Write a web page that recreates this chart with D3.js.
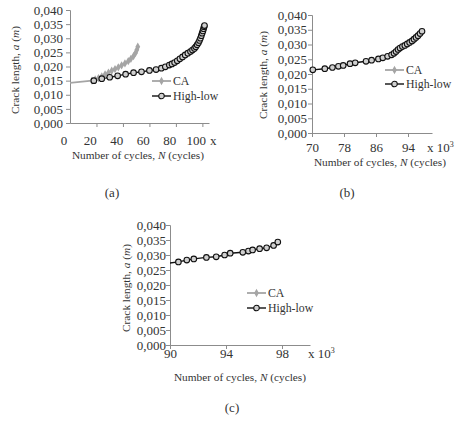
<!DOCTYPE html>
<html>
<head>
<meta charset="utf-8">
<script src="https://cdn.jsdelivr.net/npm/d3@7"></script>
</head>
<body style="margin:0;background:#fff">
<svg width="469" height="423"></svg>
<script>
// N in thousands of cycles, a in metres
var caA = [[0, 0.0140], [21.6, 0.0150], [24, 0.0154], [26.5, 0.0159], [29, 0.0165],
  [31.5, 0.0172], [34, 0.0178], [36.5, 0.0185], [39, 0.0191], [41.5, 0.0197],
  [44, 0.0204], [46.5, 0.0211], [49, 0.0219], [51, 0.0227], [53, 0.0237],
  [54.5, 0.0248], [55.5, 0.0259], [56.2, 0.0270]];

var highLowA = [[23, 0.0150], [29, 0.0157], [35, 0.0162], [41, 0.0167], [47, 0.0173],
  [53, 0.0178], [59, 0.0181], [65, 0.0186], [70, 0.0189], [74, 0.0194], [77, 0.0199],
  [80, 0.0205], [82, 0.0209], [84, 0.0214], [86, 0.0220], [88, 0.0227], [90, 0.0234],
  [92, 0.0241], [94, 0.0247], [96, 0.0253], [97.5, 0.0258], [99, 0.0264], [100, 0.0270],
  [101, 0.0277], [102, 0.0284], [102.8, 0.0292], [103.5, 0.0300], [104.2, 0.0309],
  [104.8, 0.0318], [105.4, 0.0326], [105.9, 0.0334], [106.3, 0.0341], [106.6, 0.0345]];

var highLowB = [[70.2, 0.0214], [73.2, 0.0218], [75.1, 0.0222], [76.6, 0.0226],
  [77.8, 0.0229], [79.5, 0.0235], [80.8, 0.0238], [83.5, 0.0243], [84.9, 0.0247],
  [86.6, 0.0251], [87.7, 0.0255], [88.9, 0.0260], [89.9, 0.0265], [90.5, 0.0270],
  [91, 0.0276], [91.5, 0.0283], [92, 0.0288], [92.6, 0.0293], [93.2, 0.0297],
  [93.8, 0.0302], [94.4, 0.0307], [95, 0.0312], [95.5, 0.0318], [96, 0.0324],
  [96.5, 0.0330], [97, 0.0337], [97.5, 0.0345]];

var highLowC = [[89.5, 0.0270], [90.6, 0.0277], [91.2, 0.0283], [91.7, 0.0287],
  [92.6, 0.0292], [93.3, 0.0294], [93.9, 0.0300], [94.3, 0.0306], [95.2, 0.0309],
  [95.6, 0.0313], [95.9, 0.0317], [96.4, 0.0321], [96.9, 0.0324], [97.4, 0.0332],
  [97.7, 0.0343]];

var crackTicks = [0, 0.005, 0.010, 0.015, 0.020, 0.025, 0.030, 0.035, 0.040];
var cycleLabelsA = [0, 20, 40, 60, 80, 100];
var cycleTicksA = [25, 45, 65, 85, 105];
var cycleTicksB = [70, 78, 86, 94];
var cycleTicksC = [90, 94, 98];
var seriesNames = ['CA', 'High-low'];

// no generic fallback here: "serif" resolves to a much wider face in the sandbox
var serif = '"Liberation Serif", "Times New Roman"';
var textColor = '#333';
var caColor = '#a5a5a5';
var axisColor = '#8c8c8c';
var commaFormat = d3.formatLocale({ decimal: ',', thousands: '.', grouping: [3], currency: ['', ''] }).format('.3f');

var panels = [
  { id: 'a', ca: caA, highLow: highLowA, xDomain: [5, 110], xRange: [70, 209], yRange: [123, 10],
    ticks: cycleTicksA, labels: cycleLabelsA, labelPad: 13, yPad: 3, unit: 'x', unitX: 210,
    legend: [152, 81, 15], caption: [112, 197], xTitle: [138, 159], yTitle: [15, 70] },
  { id: 'b', ca: caA, highLow: highLowB, xDomain: [70, 100], xRange: [312, 432], yRange: [133, 15],
    ticks: cycleTicksB, labels: cycleTicksB, labelPad: 10, yPad: 1, unit: 'x 10', unitX: 427,
    legend: [385, 70, 14], caption: [347, 197], xTitle: [380, 166], yTitle: [263, 75] },
  { id: 'c', ca: caA, highLow: highLowC, xDomain: [90, 100], xRange: [170, 310], yRange: [345, 225],
    ticks: cycleTicksC, labels: cycleTicksC, labelPad: 4, yPad: 0, unit: 'x 10', unitX: 308,
    legend: [247, 293, 15], caption: [232, 412], xTitle: [240, 381], yTitle: [126, 288] }
];

var svg = d3.select('svg').style('font-family', serif);
var defs = svg.append('defs');

function addText(g, x, y, size) {
  return g.append('text')
    .attr('x', x).attr('y', y)
    .style('font-family', serif)
    .style('font-size', size + 'px')
    .style('fill', textColor);
}

function drawMarkers(g, data, isCa, x, y) {
  if (isCa) {
    g.selectAll('path.ca-marker').data(data).enter()
      .append('path')
      .attr('class', 'ca-marker')
      .attr('d', d3.symbol(d3.symbolDiamond).size(20))
      .attr('transform', function (d) { return 'translate(' + x(d[0]) + ',' + y(d[1]) + ')'; })
      .style('fill', caColor);
  } else {
    g.selectAll('circle').data(data).enter()
      .append('circle')
      .attr('cx', function (d) { return x(d[0]); })
      .attr('cy', function (d) { return y(d[1]); })
      .attr('r', 2.8)
      .style('fill', '#d0d0d0')
      .style('stroke', '#111')
      .style('stroke-width', 1.1);
  }
}

panels.forEach(function (p) {
  var x = d3.scaleLinear().domain(p.xDomain).range(p.xRange);
  var y = d3.scaleLinear().domain([0, 0.04]).range(p.yRange);
  var g = svg.append('g');

  // lines are clipped at the plot area, like Excel does
  defs.append('clipPath').attr('id', 'clip-' + p.id)
    .append('rect')
    .attr('x', p.xRange[0]).attr('y', 0)
    .attr('width', p.xRange[1] - p.xRange[0] + 40)
    .attr('height', p.yRange[0]);

  var yAxis = g.append('g')
    .attr('transform', 'translate(' + p.xRange[0] + ',0)')
    .call(d3.axisLeft(y).tickValues(crackTicks).tickFormat(commaFormat).tickSize(4).tickPadding(p.yPad));

  // x axis: tick marks, then the labels on their own
  var xAxis = g.append('g')
    .attr('transform', 'translate(0,' + p.yRange[0] + ')')
    .call(d3.axisBottom(x).tickValues(p.ticks).tickFormat('').tickSize(4).tickSizeOuter(0));
  var xLabels = g.append('g')
    .attr('transform', 'translate(0,' + p.yRange[0] + ')')
    .call(d3.axisBottom(x).tickValues(p.labels).tickSize(0).tickPadding(p.labelPad));
  xLabels.select('.domain').remove();

  [yAxis, xAxis, xLabels].forEach(function (ax) {
    ax.attr('font-family', null);
    ax.selectAll('.domain, line').attr('stroke', axisColor);
    ax.selectAll('text')
      .style('font-family', serif)
      .style('font-size', '13px')
      .attr('fill', textColor);
  });

  // unit after the last label
  var unit = addText(g, p.unitX, p.yRange[0] + p.labelPad + 9.2, 13).text(p.unit);
  if (p.unit !== 'x') {
    unit.append('tspan').attr('dy', -5).style('font-size', '8px').text('3');
  }

  // series
  var line = d3.line().x(function (d) { return x(d[0]); }).y(function (d) { return y(d[1]); });
  var plot = g.append('g').attr('clip-path', 'url(#clip-' + p.id + ')');
  plot.append('path').datum(p.ca)
    .attr('d', line).attr('fill', 'none')
    .attr('stroke', caColor).attr('stroke-width', 1.8);
  plot.append('path').datum(p.highLow)
    .attr('d', line).attr('fill', 'none')
    .attr('stroke', '#111').attr('stroke-width', 1.4);

  var inside = function (d) { return d[0] >= p.xDomain[0] && d[0] <= p.xDomain[1]; };
  drawMarkers(g.append('g'), p.ca.filter(inside), true, x, y);
  drawMarkers(g.append('g'), p.highLow.filter(inside), false, x, y);

  // legend
  var lx = p.legend[0], ly = p.legend[1], step = p.legend[2];
  var ident = function (v) { return v; };
  seriesNames.forEach(function (name, i) {
    var row = g.append('g').attr('transform', 'translate(' + lx + ',' + (ly + i * step) + ')');
    row.append('line').attr('x1', 0).attr('x2', 19).attr('y1', 0).attr('y2', 0)
      .attr('stroke', i === 0 ? caColor : '#111').attr('stroke-width', i === 0 ? 1.8 : 1.4);
    drawMarkers(row, [[9.5, 0]], i === 0, ident, ident);
    addText(row, 21, 0, 11.8).attr('dy', '0.35em').text(name);
  });

  // axis titles
  var xt = addText(g, p.xTitle[0], p.xTitle[1], 11.3).attr('text-anchor', 'middle');
  xt.append('tspan').text('Number of cycles, ');
  xt.append('tspan').style('font-style', 'italic').text('N');
  xt.append('tspan').text(' (cycles)');

  var yt = addText(g, 0, 0, 11.3)
    .attr('transform', 'translate(' + p.yTitle[0] + ',' + p.yTitle[1] + ') rotate(-90)')
    .attr('text-anchor', 'middle').attr('dy', '0.35em');
  yt.append('tspan').text('Crack length, ');
  yt.append('tspan').style('font-style', 'italic').text('a');
  yt.append('tspan').text(' (');
  yt.append('tspan').style('font-style', 'italic').text('m');
  yt.append('tspan').text(')');

  // caption
  addText(g, p.caption[0], p.caption[1], 13).attr('text-anchor', 'middle').text('(' + p.id + ')');
});
</script>
</body>
</html>
